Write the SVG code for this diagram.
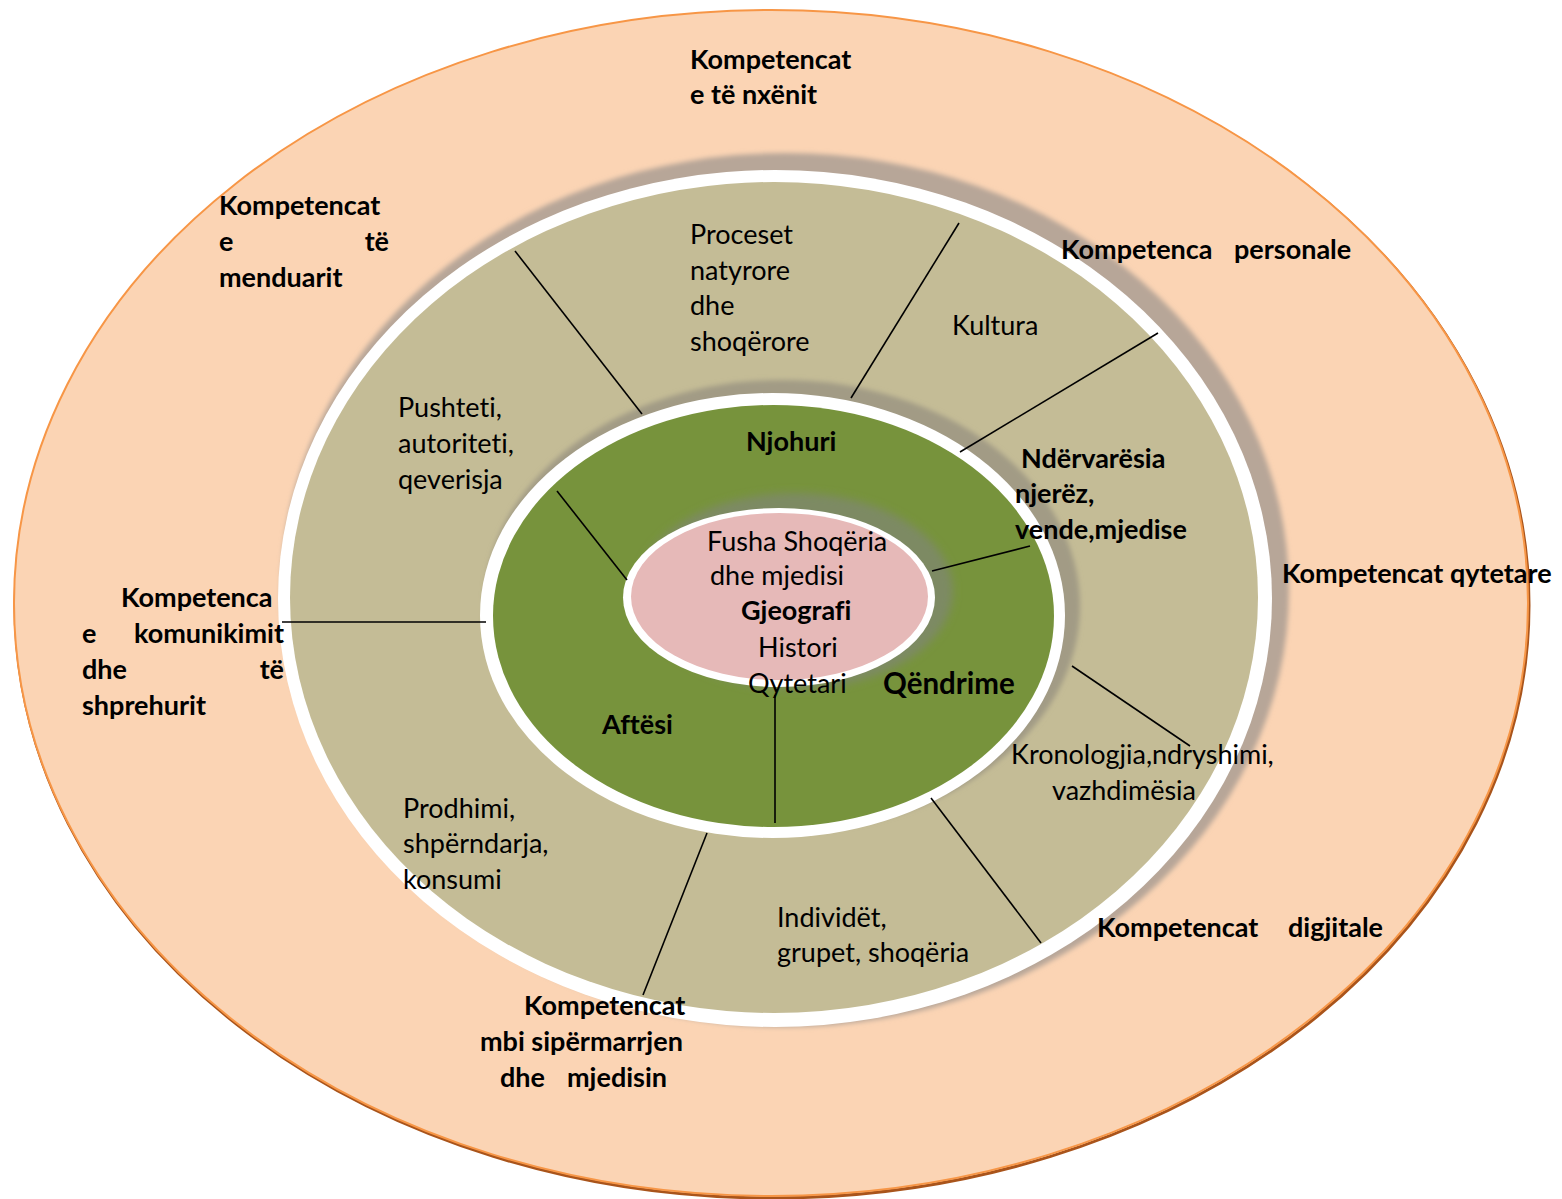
<svg xmlns="http://www.w3.org/2000/svg" width="1562" height="1199" viewBox="0 0 1562 1199">
<defs>
<style>
.b{font-family:Lato,"Open Sans","DejaVu Sans",sans-serif;font-weight:bold;font-size:27px;fill:#000;font-variant-ligatures:none}
.r{font-family:Lato,"Open Sans","DejaVu Sans",sans-serif;font-weight:normal;font-size:27px;fill:#000;font-variant-ligatures:none}
.ln{stroke:#000;stroke-width:1.6;fill:none}
</style>
<filter id="soft" x="-10%" y="-10%" width="120%" height="120%"><feGaussianBlur stdDeviation="2.5"/></filter>
<filter id="soft2" x="-20%" y="-20%" width="140%" height="140%"><feGaussianBlur stdDeviation="4"/></filter>
</defs>
<rect width="1562" height="1199" fill="#fff"/>
<g id="ring-outer">
<ellipse cx="772" cy="605" rx="757" ry="593" fill="none" stroke="#A9541B" stroke-width="3"/>
<ellipse cx="771" cy="603" rx="757" ry="593" fill="#FBD4B4" stroke="#F79646" stroke-width="2"/>
</g>
<g id="ring-tan">
<ellipse cx="785" cy="590" rx="504" ry="437" fill="#B7A698" filter="url(#soft)"/>
<ellipse cx="775" cy="598.5" rx="497" ry="428.5" fill="#fff"/>
<ellipse cx="774" cy="597.5" rx="484" ry="415.5" fill="#C4BC96"/>
</g>
<g id="ring-green">
<ellipse cx="782" cy="606" rx="298" ry="226" fill="#A29B85" filter="url(#soft)"/>
<ellipse cx="772.5" cy="615.5" rx="292.5" ry="222.5" fill="#fff"/>
<ellipse cx="773.5" cy="616" rx="280.5" ry="211" fill="#77933C"/>
</g>
<g id="core">
<ellipse cx="795" cy="591" rx="158" ry="98" fill="#7D8A64" filter="url(#soft2)"/>
<ellipse cx="779" cy="597.5" rx="156" ry="89.5" fill="#fff"/>
<ellipse cx="779.5" cy="596.5" rx="148.5" ry="83.5" fill="#E6B9B8"/>
</g>
<g id="connectors">
<line class="ln" x1="515" y1="251" x2="642" y2="414"/>
<line class="ln" x1="959" y1="223" x2="851" y2="398"/>
<line class="ln" x1="1158" y1="333" x2="960" y2="452"/>
<line class="ln" x1="1030" y1="546" x2="932" y2="571"/>
<line class="ln" x1="557" y1="491" x2="627" y2="580"/>
<line class="ln" x1="282" y1="622" x2="486" y2="622"/>
<line class="ln" x1="775" y1="695" x2="775" y2="823"/>
<line class="ln" x1="1072" y1="666" x2="1190" y2="746"/>
<line class="ln" x1="931" y1="798" x2="1041" y2="943"/>
<line class="ln" x1="707" y1="833" x2="643" y2="995"/>
</g>
<g id="lbl-nxenit"><text class="b" x="690" y="69">Kompetencat</text><text class="b" x="690" y="104">e të nxënit</text></g>
<g id="lbl-menduarit"><text class="b" x="219" y="215">Kompetencat</text><text class="b" x="219" y="251">e</text><text class="b" x="389" y="251" text-anchor="end">të</text><text class="b" x="219" y="287">menduarit</text></g>
<g id="lbl-personale"><text class="b" x="1061" y="259">Kompetenca</text><text class="b" x="1234" y="259">personale</text></g>
<g id="lbl-qytetare"><text class="b" x="1282" y="583">Kompetencat qytetare</text></g>
<g id="lbl-digjitale"><text class="b" x="1097" y="937">Kompetencat</text><text class="b" x="1288" y="937">digjitale</text></g>
<g id="lbl-sipermarrjen"><text class="b" x="524" y="1015">Kompetencat</text><text class="b" x="480" y="1051">mbi sipërmarrjen</text><text class="b" x="500" y="1087">dhe</text><text class="b" x="567" y="1087">mjedisin</text></g>
<g id="lbl-komunikimit"><text class="b" x="121" y="607">Kompetenca</text><text class="b" x="82" y="643">e</text><text class="b" x="284" y="643" text-anchor="end">komunikimit</text><text class="b" x="82" y="679">dhe</text><text class="b" x="284" y="679" text-anchor="end">të</text><text class="b" x="82" y="715">shprehurit</text></g>
<g id="lbl-proceset"><text class="r" x="690" y="244">Proceset</text><text class="r" x="690" y="280">natyrore</text><text class="r" x="690" y="315">dhe</text><text class="r" x="690" y="351">shoqërore</text></g>
<g id="lbl-kultura"><text class="r" x="952" y="335">Kultura</text></g>
<g id="lbl-pushteti"><text class="r" x="398" y="417">Pushteti,</text><text class="r" x="398" y="453">autoriteti,</text><text class="r" x="398" y="489">qeverisja</text></g>
<g id="lbl-ndervaresia"><text class="b" x="1021" y="468">Ndërvarësia</text><text class="b" x="1015" y="503">njerëz,</text><text class="b" x="1015" y="539">vende,mjedise</text></g>
<g id="lbl-kronologjia"><text class="r" x="1011" y="764">Kronologjia,ndryshimi,</text><text class="r" x="1052" y="800">vazhdimësia</text></g>
<g id="lbl-individet"><text class="r" x="777" y="927">Individët,</text><text class="r" x="777" y="962">grupet, shoqëria</text></g>
<g id="lbl-prodhimi"><text class="r" x="403" y="818">Prodhimi,</text><text class="r" x="403" y="853">shpërndarja,</text><text class="r" x="403" y="889">konsumi</text></g>
<g id="lbl-njohuri"><text class="b" x="746" y="451">Njohuri</text></g>
<g id="lbl-aftesi"><text class="b" x="602" y="734">Aftësi</text></g>
<g id="lbl-qendrime"><text class="b" x="883" y="694" style="font-size:29.5px">Qëndrime</text></g>
<g id="lbl-core"><text class="r" x="707" y="551">Fusha Shoqëria</text><text class="r" x="710" y="585">dhe mjedisi</text><text class="b" x="741" y="620">Gjeografi</text><text class="r" x="758" y="657">Histori</text><text class="r" x="748" y="693">Qytetari</text></g>
</svg>
